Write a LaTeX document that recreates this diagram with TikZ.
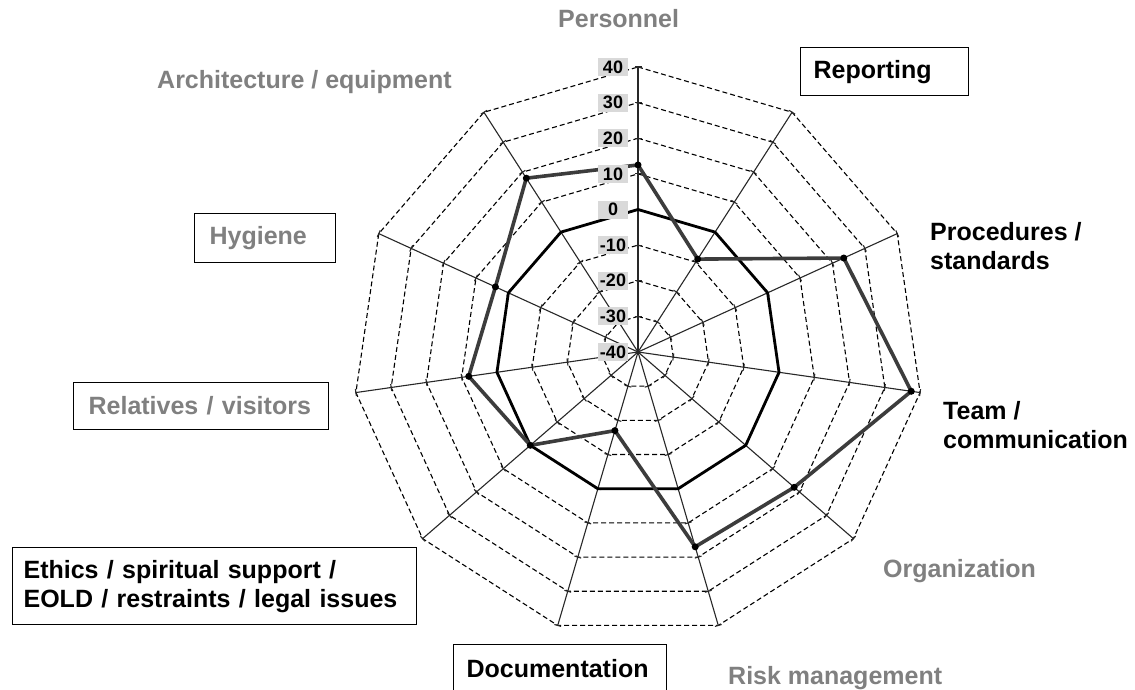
\documentclass[tikz,border=0pt]{standalone}
\usepackage{fontspec}
\setmainfont{Liberation Sans}
\usetikzlibrary{calc}
\definecolor{labelgray}{RGB}{128,128,128}
\definecolor{datagray}{RGB}{60,60,60}
\definecolor{scalebg}{RGB}{217,217,217}
\definecolor{axiscol}{RGB}{40,40,40}
\begin{document}
\begin{tikzpicture}[x=1pt,y=-1pt,
  catfont/.style={font=\bfseries\fontsize{25}{29}\selectfont},
  cattext/.style={catfont, inner sep=0pt, anchor=base west, align=left},
  catbox/.style={catfont, draw=black, line width=1.2pt, fill=white, anchor=north west, inner ysep=0pt, align=left},
  ringline/.style={draw=black, line width=1.1pt, dash pattern=on 5pt off 3pt},
  axisline/.style={draw=axiscol, line width=1.1pt},
  tickline/.style={draw=axiscol, line width=1.1pt},
  zeroring/.style={draw=black, line width=2.8pt, line join=round},
  datapoly/.style={draw=datagray, line width=3.6pt, line join=round},
  datamark/.style={fill=black},
  scalelabel/.style={fill=scalebg, font=\bfseries\fontsize{18}{18}\selectfont, minimum width=30pt, minimum height=18pt, inner sep=0pt}
]
\useasboundingbox (0,0) rectangle (1135,690);
\fill[white] (0,0) rectangle (1135,690);

\coordinate (C) at (638,352);
\foreach \i in {0,...,10} {
  \pgfmathsetmacro{\a}{90-\i*360/11}
  \coordinate (ax\i) at ({638+285*cos(\a)}, {352-285*sin(\a)});
}

% dashed rings
\foreach \k in {1,2,3,5,6,7,8}
  \draw[ringline] ($(C)!{\k/8}!(ax0)$) \foreach \i in {1,...,10} { -- ($(C)!{\k/8}!(ax\i)$) } -- cycle;

% axes
\foreach \i in {0,...,10} \draw[axisline] (C) -- (ax\i);

% ticks
\foreach \i in {0,...,10} {
  \foreach \k in {1,...,8} {
    \coordinate (tp) at ($(C)!{\k/8}!(ax\i)$);
    \draw[tickline] ($(tp)!3.5pt!90:(C)$) -- ($(tp)!3.5pt!-90:(C)$);
  }
}

% zero ring
\draw[zeroring] ($(C)!0.5!(ax0)$) \foreach \i in {1,...,10} { -- ($(C)!0.5!(ax\i)$) } -- cycle;

% data
\foreach \v [count=\n from 0] in {12.5,-9,23.5,37.5,18,17,-17,0,8,4,18}
  \coordinate (d\n) at ($(C)!{(\v+40)/80}!(ax\n)$);
\draw[datapoly] (d0) \foreach \n in {1,...,10} { -- (d\n) } -- cycle;
\foreach \n in {0,...,10} \fill[datamark] (d\n) circle (3.5pt);

% scale labels
\foreach \k in {0,...,8} {
  \pgfmathtruncatemacro{\val}{\k*10-40}
  \node[scalelabel] (s\k) at (613, {352-\k*35.625}) {\val};
}

% category labels
\node[cattext, text=labelgray] (personnel) at (558,28) {Personnel};
\node[catbox, text width=142pt, inner xsep=13pt, minimum height=48pt] (reporting) at (800,47) {Reporting};
\node[cattext] (procedures) at (930,269) {Procedures /\\standards};
\node[cattext] (team) at (943,448) {Team /\\communication};
\node[cattext, text=labelgray] (organization) at (883,577) {Organization};
\node[cattext, text=labelgray] (risk) at (728,684) {Risk management};
\node[catbox, text width=187pt, inner xsep=13pt, minimum height=48pt] (documentation) at (453,644) {Documentation};
\node[catbox, text width=382pt, inner xsep=11pt, minimum height=77pt] (ethics) at (12,547) {Ethics / spiritual support /\\EOLD / restraints / legal issues};
\node[catbox, text=labelgray, text width=225pt, inner xsep=15pt, minimum height=47pt] (relatives) at (73,382) {Relatives / visitors};
\node[catbox, text=labelgray, text width=111pt, inner xsep=15pt, minimum height=49pt] (hygiene) at (194,213) {Hygiene};
\node[cattext, text=labelgray] (architecture) at (157,89) {Architecture / equipment};
\end{tikzpicture}
\end{document}
